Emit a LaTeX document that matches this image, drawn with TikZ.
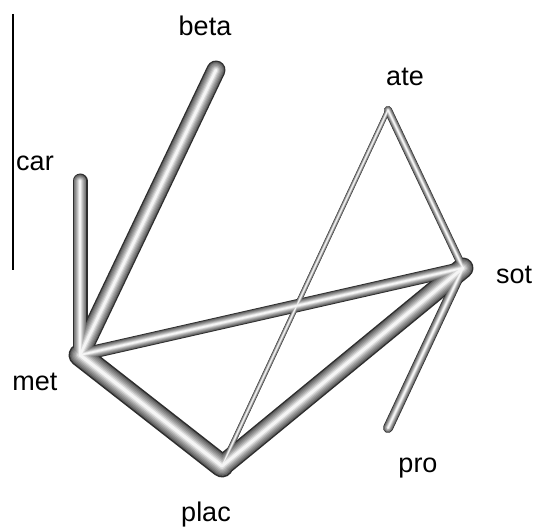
\documentclass[tikz,border=0pt]{standalone}
\usepackage{fontspec}
\setmainfont{Liberation Sans}
\begin{document}
\begin{tikzpicture}[x=1pt,y=-1pt,
  lbl/.style={font=\fontsize{27}{30}\selectfont, inner sep=0pt, anchor=base},
  tubelayer/.style={line cap=round, line join=round}]
\useasboundingbox (0,0) rectangle (537,529);
\coordinate (met) at (80,355);
\coordinate (plac) at (222,466);
\coordinate (sot) at (463,268);
\coordinate (ate) at (388,110);
\coordinate (betaend) at (216,70);
\coordinate (carend) at (80,181);
\coordinate (proend) at (388,428);
\coordinate (ltop) at (13,14);
\coordinate (lbot) at (13,270);
\draw[line width=1.2pt] (ltop) -- (lbot);
\foreach \f/\c in {1/black!82,0.86/black!62,0.74/black!52,0.62/black!44,0.5/black!35,0.38/black!25,0.26/black!14,0.14/black!4}{%
  \begin{scope}[tubelayer, color=\c]
    \draw[line width=\f*5] (ate) -- (plac);
    \draw[line width=\f*8] (ate) -- (sot);
    \draw[line width=\f*10] (sot) -- (proend);
    \draw[line width=\f*15] (carend) -- (met);
    \draw[line width=\f*19] (betaend) -- (met);
    \draw[line width=\f*13] (met) -- (sot);
    \draw[line width=\f*21] (plac) -- (sot);
    \draw[line width=\f*23] (met) -- (plac);
  \end{scope}}
\node[lbl] (lbeta) at (205,36) {beta};
\node[lbl] (late) at (405,86) {ate};
\node[lbl] (lcar) at (35,171) {car};
\node[lbl] (lsot) at (514,283) {sot};
\node[lbl] (lmet) at (35,390) {met};
\node[lbl] (lpro) at (418,472) {pro};
\node[lbl] (lplac) at (206,521) {plac};
\end{tikzpicture}
\end{document}
